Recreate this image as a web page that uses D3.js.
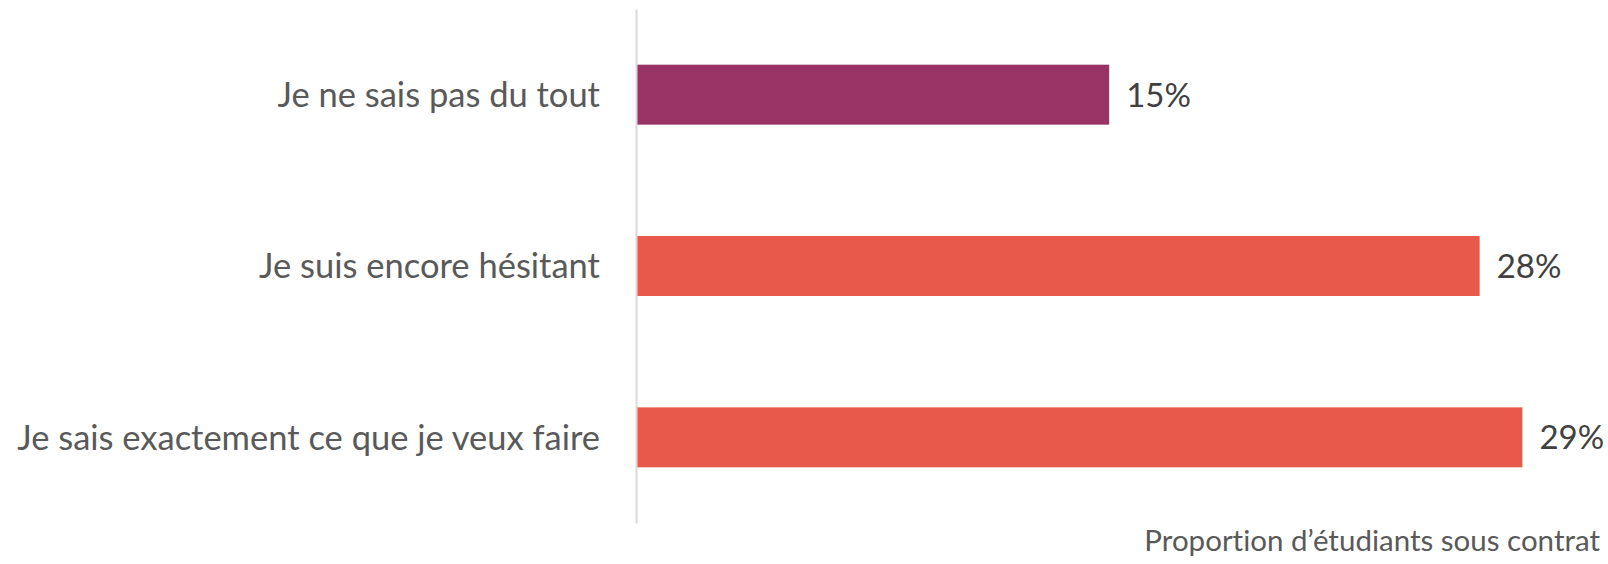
<!DOCTYPE html>
<html>
<head>
<meta charset="utf-8">
<script src="https://cdn.jsdelivr.net/npm/d3@7"></script>
<style>
  html, body { margin: 0; padding: 0; background: #ffffff; }
  svg { display: block; }
  text { font-variant-ligatures: none; font-feature-settings: "liga" 0, "clig" 0; }
</style>
</head>
<body>
<svg id="chart" width="1608" height="564"></svg>
<script>
// ---- data ----
const categories = [
  "Je ne sais pas du tout",
  "Je suis encore hésitant",
  "Je sais exactement ce que je veux faire"
];
const values = [0.1548, 0.276, 0.29];
const barColors = ["#993366", "#E8594B", "#E8594B"];
const axisTitle = "Proportion d’étudiants sous contrat";
const xDomain = [0, 0.30];

// ---- layout ----
const W = 1608, H = 564;
const plotLeft = 636, plotRight = 1553;
const plotTop = 9, plotBottom = 523;

const svg = d3.select("#chart");

const x = d3.scaleLinear().domain(xDomain).range([plotLeft, plotRight]);
const y = d3.scaleBand().domain(categories).range([plotTop, plotBottom])
  .paddingInner(0.65).paddingOuter(0.325);

// bars
svg.append("g").selectAll("rect")
  .data(values)
  .join("rect")
  .attr("x", x(0) + 1)
  .attr("y", (d, i) => y(categories[i]))
  .attr("width", d => x(d) - x(0) - 1)
  .attr("height", y.bandwidth())
  .attr("fill", (d, i) => barColors[i]);

// value labels
svg.append("g").selectAll("text")
  .data(values)
  .join("text")
  .attr("x", d => x(d) + 17)
  .attr("y", (d, i) => y(categories[i]) + y.bandwidth() / 2)
  .attr("dy", "0.36em")
  .attr("font-family", "Lato, 'Open Sans', sans-serif")
  .attr("font-size", 33)
  .attr("fill", "#404040")
  .text(d => d3.format(".0%")(d));

// y axis
const yAxis = d3.axisLeft(y).tickSize(0).tickPadding(36);
const gy = svg.append("g")
  .attr("transform", `translate(${plotLeft},0)`)
  .call(yAxis);
gy.select(".domain").attr("stroke", "#d9d9d9").attr("stroke-width", 2);
gy.selectAll(".tick text")
  .attr("font-family", "Lato, 'Open Sans', sans-serif")
  .attr("font-size", 34.5)
  .attr("fill", "#595959")
  .attr("dy", "0.36em");

// axis title (bottom right)
svg.append("text")
  .attr("x", 1600)
  .attr("y", 551)
  .attr("text-anchor", "end")
  .attr("font-family", "Lato, 'Open Sans', sans-serif")
  .attr("font-size", 29.5)
  .attr("fill", "#595959")
  .text(axisTitle);
</script>
</body>
</html>
